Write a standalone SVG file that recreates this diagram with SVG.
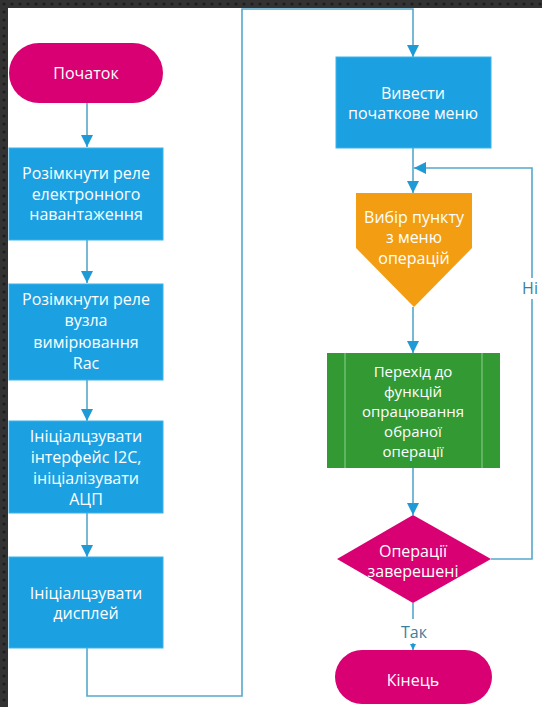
<svg xmlns="http://www.w3.org/2000/svg" width="542" height="707" viewBox="0 0 542 707">
  <defs>
    <pattern id="dots" width="8" height="8" patternUnits="userSpaceOnUse">
      <rect width="8" height="8" fill="#333333"/>
      <circle cx="4" cy="4" r="1.6" fill="#1e1e1e"/>
    </pattern>
    <marker id="arrow" viewBox="0 0 12 12" refX="12" refY="6" markerWidth="12" markerHeight="12" markerUnits="userSpaceOnUse" orient="auto">
      <path d="M0,0 L12,6 L0,12 Z" fill="#1e9ad6"/>
    </marker>
    <marker id="arrowSmall" viewBox="0 0 6 6" refX="6" refY="3" markerWidth="6" markerHeight="6" markerUnits="userSpaceOnUse" orient="auto">
      <path d="M0,0 L6,3 L0,6 Z" fill="#1e9ad6"/>
    </marker>
  </defs>
  <style>
    .proc { fill: #1ba1e2; stroke: #3fb3ea; stroke-width: 1; }
    .term { fill: #d80073; }
    .prep { fill: #f29d12; }
    .sub { fill: #339933; }
    .subline { stroke: #8fd08f; stroke-width: 1; }
    .dec { fill: #d80073; }
    .lbl { font-family: "Open Sans", "Noto Sans", "DejaVu Sans", sans-serif; font-size: 16px; fill: #ffffff; text-anchor: middle; dominant-baseline: central; }
    .lbl.tight { font-size: 15px; }
    .edge { fill: none; stroke: #55a8cb; stroke-width: 1.6; }
    .elbl { font-family: "Open Sans", "Noto Sans", "DejaVu Sans", sans-serif; font-size: 16px; fill: #3c7f9c; text-anchor: middle; dominant-baseline: central; }
  </style>

  <!-- frame -->
  <rect width="542" height="707" fill="url(#dots)"/>
  <rect x="8" y="8" width="534" height="699" fill="#ffffff"/>

  <!-- connectors -->
  <g id="connectors">
    <path class="edge" d="M87,103 V147" marker-end="url(#arrow)"/>
    <path class="edge" d="M87,240 V283" marker-end="url(#arrow)"/>
    <path class="edge" d="M87,380 V421" marker-end="url(#arrow)"/>
    <path class="edge" d="M87,513 V557" marker-end="url(#arrow)"/>
    <path class="edge" d="M87,648 V696 H242 V9 H413 V57" marker-end="url(#arrow)"/>
    <path class="edge" d="M413,148 V193" marker-end="url(#arrow)"/>
    <path class="edge" d="M413,307 V353" marker-end="url(#arrow)"/>
    <path class="edge" d="M413,468 V515" marker-end="url(#arrow)"/>
    <path class="edge" d="M491,559 H532 V299"/>
    <path class="edge" d="M532,278 V168 H414" marker-end="url(#arrow)"/>
    <text class="elbl" x="530" y="288">Ні</text>
    <path class="edge" d="M413,603 V619"/>
    <text class="elbl" x="414" y="632">Так</text>
    <path class="edge" d="M413,643 V650" marker-end="url(#arrowSmall)"/>
  </g>

  <g id="start">
    <rect class="term" x="9" y="43" width="154" height="60" rx="30"/>
    <text class="lbl" x="86" y="73">Початок</text>
  </g>

  <g id="open-load-relay">
    <rect class="proc" x="9" y="148" width="154" height="92"/>
    <text class="lbl" x="86" y="173">Розімкнути реле</text>
    <text class="lbl" x="86" y="194">електронного</text>
    <text class="lbl" x="86" y="214">навантаження</text>
  </g>

  <g id="open-rac-relay">
    <rect class="proc" x="9" y="284" width="154" height="96"/>
    <text class="lbl" x="86" y="299">Розімкнути реле</text>
    <text class="lbl" x="86" y="320">вузла</text>
    <text class="lbl" x="86" y="342">вимірювання</text>
    <text class="lbl" x="86" y="363">Rac</text>
  </g>

  <g id="init-i2c-adc">
    <rect class="proc" x="9" y="421" width="154" height="92"/>
    <text class="lbl" x="86" y="436">Ініціалцзувати</text>
    <text class="lbl" x="86" y="457">інтерфейс I2C,</text>
    <text class="lbl" x="86" y="478">ініціалізувати</text>
    <text class="lbl" x="86" y="499">АЦП</text>
  </g>

  <g id="init-display">
    <rect class="proc" x="9" y="557" width="154" height="91"/>
    <text class="lbl" x="86" y="593">Ініціалцзувати</text>
    <text class="lbl" x="86" y="613">дисплей</text>
  </g>

  <g id="show-menu">
    <rect class="proc" x="336" y="57" width="155" height="91"/>
    <text class="lbl" x="413" y="93">Вивести</text>
    <text class="lbl" x="413" y="113">початкове меню</text>
  </g>

  <g id="choose-item">
    <polygon class="prep" points="356,193 472,193 472,248 414,307 356,248"/>
    <text class="lbl" x="414" y="217">Вибір пункту</text>
    <text class="lbl" x="414" y="237">з меню</text>
    <text class="lbl" x="414" y="258">операцій</text>
  </g>

  <g id="run-operation">
    <rect class="sub" x="327" y="353" width="173" height="115"/>
    <line class="subline" x1="345" y1="353" x2="345" y2="468"/>
    <line class="subline" x1="482" y1="353" x2="482" y2="468"/>
    <text class="lbl tight" x="413" y="371">Перехід до</text>
    <text class="lbl tight" x="413" y="391">функцій</text>
    <text class="lbl tight" x="413" y="411">опрацювання</text>
    <text class="lbl tight" x="413" y="431">обраної</text>
    <text class="lbl tight" x="413" y="451">операції</text>
  </g>

  <g id="done-check">
    <polygon class="dec" points="413,515 491,559 413,603 337,559"/>
    <text class="lbl" x="413" y="551">Операції</text>
    <text class="lbl" x="413" y="571">заверешені</text>
  </g>

  <g id="end">
    <rect class="term" x="335" y="650" width="157" height="54" rx="27"/>
    <text class="lbl" x="413" y="680">Кінець</text>
  </g>
</svg>
